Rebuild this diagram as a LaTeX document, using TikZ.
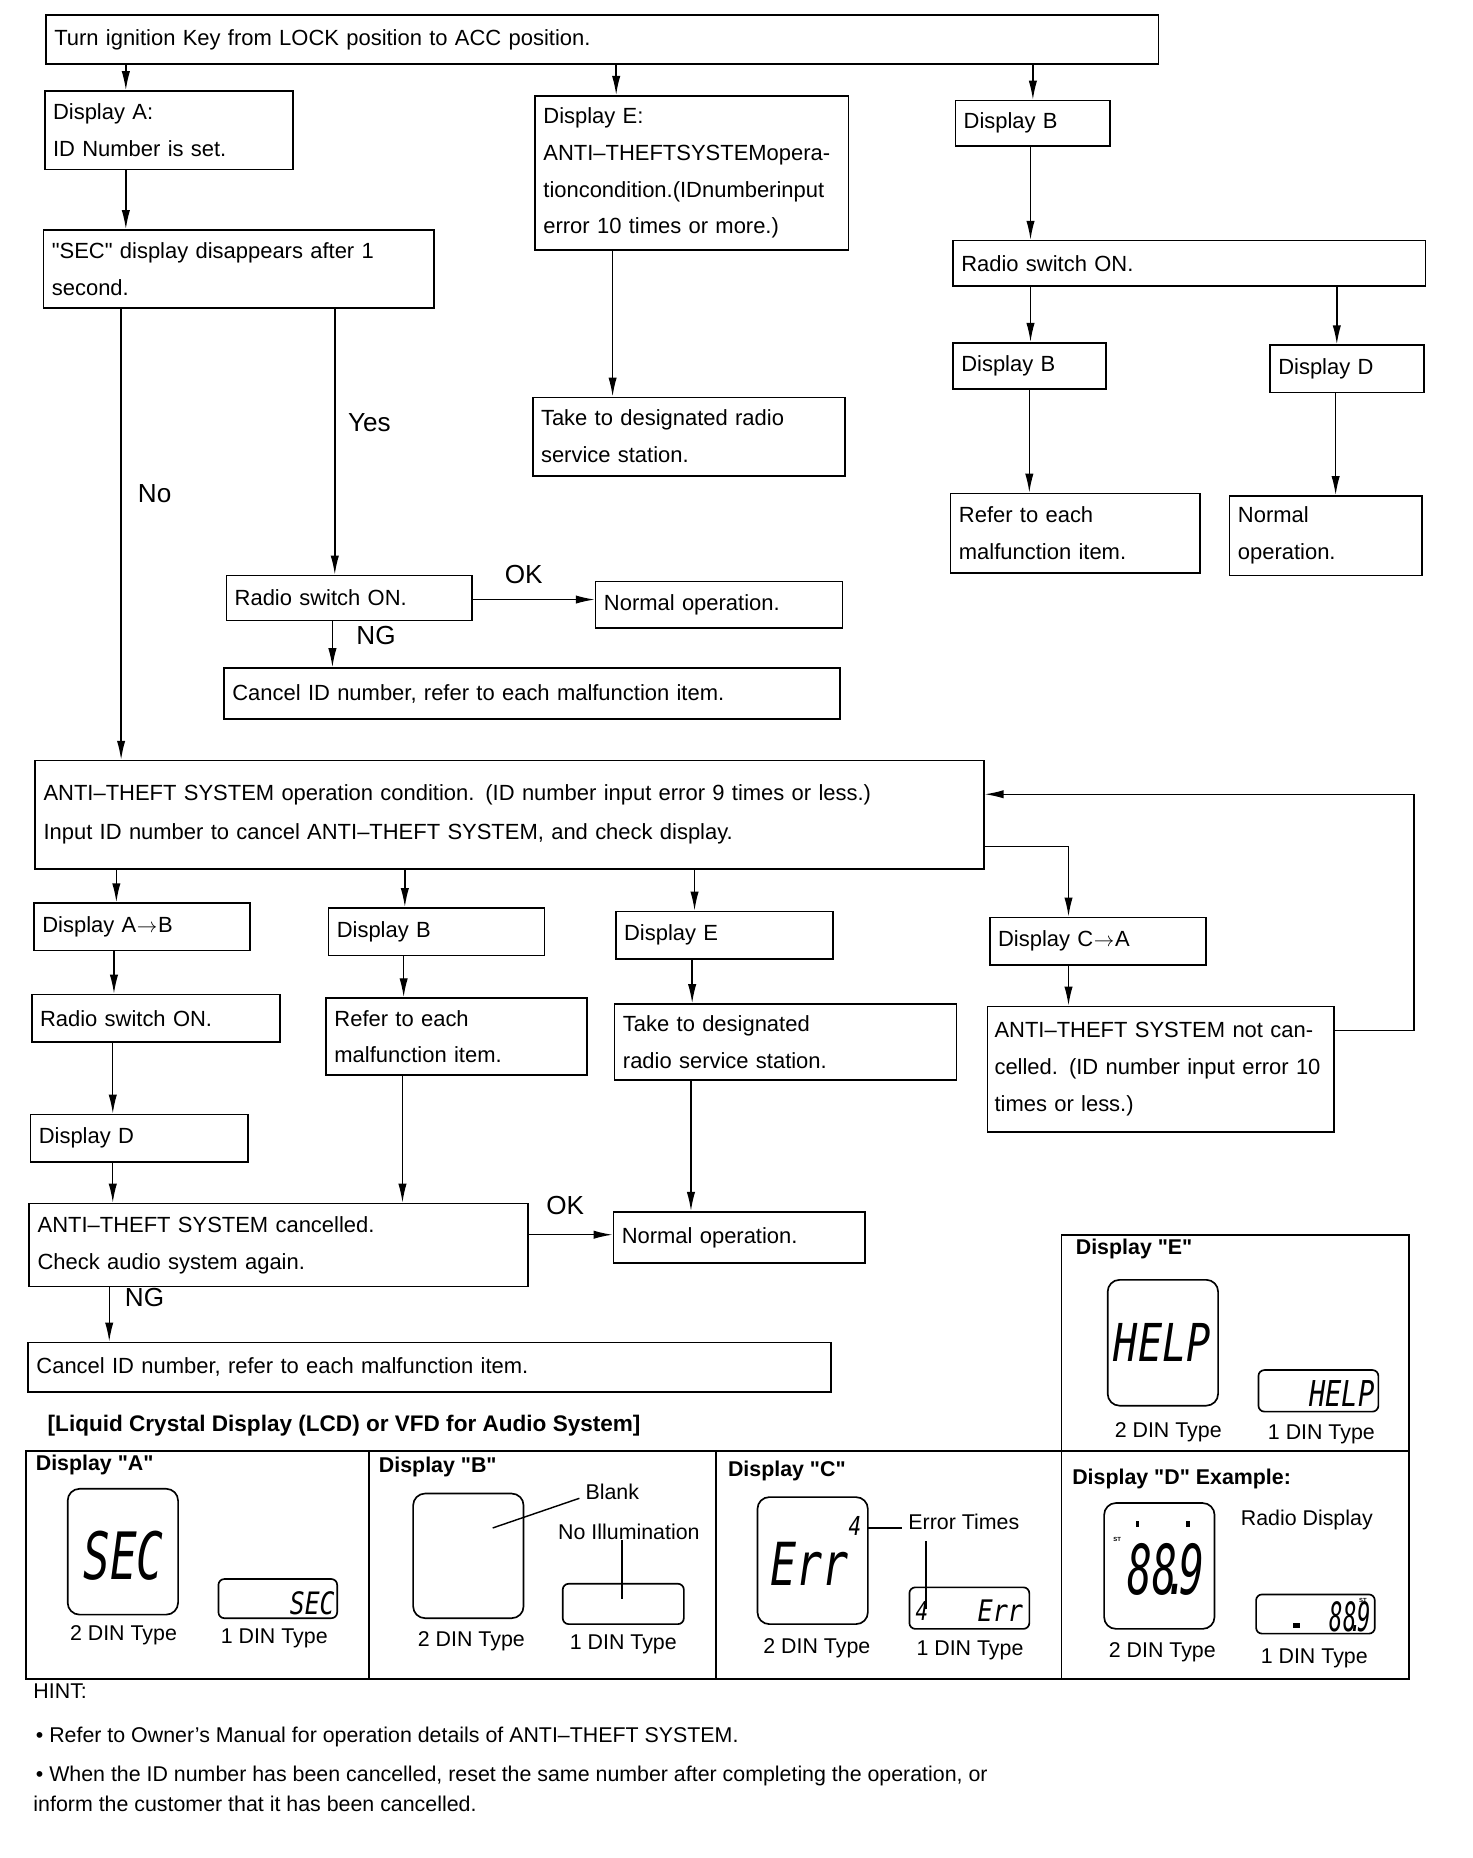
\documentclass[tikz,border=0pt]{standalone}
\usepackage{fontspec}
\setmainfont{Liberation Sans}[Ligatures=TeXOff]
\newfontfamily\lcd{DejaVu Sans Mono}
\usetikzlibrary{arrows.meta}
\newcommand\fs{\fontsize{18.5}{31}\selectfont}
\newcommand\rarr{\kern0.5pt$\rightarrow$\kern0.5pt}
\tikzset{
 box/.style={draw, line width=1.4pt, inner xsep=7pt, inner ysep=0pt, align=left, anchor=north west, font=\fs},
 arr/.style={-{Latex[length=16pt,width=7pt]}, line width=1.2pt},
 plain/.style={line width=1.2pt},
 lbl/.style={font=\fontsize{22}{24}\selectfont, anchor=mid west, inner sep=0pt},
 ptitle/.style={font=\bfseries\fontsize{18}{20}\selectfont, anchor=mid west, inner sep=0pt},
 ptxt/.style={font=\fontsize{18}{20}\selectfont, inner sep=0pt},
 frame/.style={draw, line width=1.5pt},
 lcdbig/.style={draw, line width=1.4pt, rounded corners=10pt},
 lcdsmall/.style={draw, line width=1.4pt, rounded corners=5pt},
 lcdtxt/.style={inner sep=0pt, font=\lcd\itshape},
}
\begin{document}
\begin{tikzpicture}[x=1pt,y=-1pt]
\useasboundingbox (0,0) rectangle (1240,1565);
% ---------- helper x / y positions ----------
\foreach \v in {92,95,96,98,102,106,280,282,339,340,341,516,519,582,583,585,867,868,870,900,1125,1126,1191}
  {\coordinate (x\v) at (\v,0);}
\foreach \v in {505,669,713,868,1040}
  {\coordinate (y\v) at (0,\v);}
% ---------- boxes ----------
\node[box, text width=923pt, minimum height=41pt] (T) at (38,12) {Turn ignition Key from LOCK position to ACC position.};
\node[box, text width=195pt, minimum height=66pt] (DA) at (37,76) {Display A:\\ID Number is set.};
\node[box, text width=250pt, minimum height=130pt] (DE) at (450,80) {Display E:\\ANTI–THEFTSYSTEMopera-\\tioncondition.(IDnumberinput\\error 10 times or more.)};
\node[box, text width=116pt, minimum height=38pt] (DB1) at (804,84) {Display B};
\node[box, text width=315pt, minimum height=66pt] (SEC) at (36,193) {"SEC" display disappears after 1\\second.};
\node[box, text width=249pt, minimum height=66pt] (TK1) at (448,334) {Take to designated radio\\service station.};
\node[box, text width=384pt, minimum height=38pt] (RS1) at (802,202) {Radio switch ON.};
\node[box, text width=115pt, minimum height=39pt] (DB2) at (802,288) {Display B};
\node[box, text width=116pt, minimum height=40pt] (DD1) at (1069,290) {Display D};
\node[box, text width=196pt, minimum height=67pt] (RF1) at (800,415) {Refer to each\\malfunction item.};
\node[box, text width=148pt, minimum height=67pt] (NO1) at (1035,417) {Normal\\operation.};
\node[box, text width=193pt, minimum height=38pt] (RS2) at (190,484) {Radio switch ON.};
\node[box, text width=194pt, minimum height=39pt] (NO2) at (501,489) {Normal operation.};
\node[box, text width=505pt, minimum height=43pt] (CA1) at (188,562) {Cancel ID number, refer to each malfunction item.};
\node[box, text width=785pt, minimum height=91pt, font=\fontsize{18.5}{33}\selectfont] (AT) at (29,640) {ANTI–THEFT SYSTEM operation condition. (ID number input error 9 times or less.)\\Input ID number to cancel ANTI–THEFT SYSTEM, and check display.};
\node[box, text width=168pt, minimum height=40pt] (DAB) at (28,760) {Display A\rarr B};
\node[box, text width=168pt, minimum height=40pt] (DB3) at (276,764) {Display B};
\node[box, text width=169pt, minimum height=40pt] (DE2) at (518,767) {Display E};
\node[box, text width=168pt, minimum height=40pt] (DCA) at (833,772) {Display C\rarr A};
\node[box, text width=195pt, minimum height=40pt] (RS3) at (26,837) {Radio switch ON.};
\node[box, text width=206pt, minimum height=65pt] (RF2) at (274,840) {Refer to each\\malfunction item.};
\node[box, text width=274pt, minimum height=64pt] (TK2) at (517,845) {Take to designated\\radio service station.};
\node[box, text width=280pt, inner xsep=6pt, minimum height=106pt] (NC) at (831,847) {\makebox[\linewidth][s]{ANTI–THEFT SYSTEM not can-}\\\makebox[\linewidth][s]{celled. (ID number input error 10}\\times or less.)};
\node[box, text width=169pt, minimum height=40pt] (DD2) at (25,938) {Display D};
\node[box, text width=406pt, minimum height=70pt] (AC) at (24,1013) {ANTI–THEFT SYSTEM cancelled.\\Check audio system again.};
\node[box, text width=198pt, minimum height=43pt] (NO3) at (516,1020) {Normal operation.};
\node[box, text width=662pt, minimum height=42pt] (CA2) at (23,1130) {Cancel ID number, refer to each malfunction item.};
% ---------- connectors ----------
\draw[arr] (T.south -| x106) -- (DA.north -| x106);
\draw[arr] (T.south -| x519) -- (DE.north -| x519);
\draw[arr] (T.south -| x870) -- (DB1.north -| x870);
\draw[arr] (DA.south -| x106) -- (SEC.north -| x106);
\draw[arr] (DE.south -| x516) -- (TK1.north -| x516);
\draw[arr] (DB1.south -| x868) -- (RS1.north -| x868);
\draw[arr] (RS1.south -| x868) -- (DB2.north -| x868);
\draw[arr] (RS1.south -| x1126) -- (DD1.north -| x1126);
\draw[arr] (DB2.south -| x867) -- (RF1.north -| x867);
\draw[arr] (DD1.south -| x1125) -- (NO1.north -| x1125);
\draw[arr] (SEC.south -| x282) -- (RS2.north -| x282);
\draw[arr] (SEC.south -| x102) -- (AT.north -| x102);
\draw[arr] (RS2.east |- y505) -- (NO2.west |- y505);
\draw[arr] (RS2.south -| x280) -- (CA1.north -| x280);
\draw[arr] (AT.south -| x98) -- (DAB.north -| x98);
\draw[arr] (AT.south -| x341) -- (DB3.north -| x341);
\draw[arr] (AT.south -| x585) -- (DE2.north -| x585);
\draw[arr] (AT.east |- y713) -- (x900 |- y713) -- (DCA.north -| x900);
\draw[arr] (DAB.south -| x96) -- (RS3.north -| x96);
\draw[arr] (DB3.south -| x340) -- (RF2.north -| x340);
\draw[arr] (DE2.south -| x583) -- (TK2.north -| x583);
\draw[arr] (DCA.south -| x900) -- (NC.north -| x900);
\draw[arr] (NC.east |- y868) -- (x1191 |- y868) -- (x1191 |- y669) -- (AT.east |- y669);
\draw[arr] (RS3.south -| x95) -- (DD2.north -| x95);
\draw[arr] (DD2.south -| x95) -- (AC.north -| x95);
\draw[arr] (RF2.south -| x339) -- (AC.north -| x339);
\draw[arr] (TK2.south -| x582) -- (NO3.north -| x582);
\draw[arr] (AC.east |- y1040) -- (NO3.west |- y1040);
\draw[arr] (AC.south -| x92) -- (CA2.north -| x92);
% ---------- connector labels ----------
\node[lbl] (lyes) at (293,361) {Yes};
\node[lbl] (lno) at (116,421) {No};
\node[lbl] (lok1) at (425,489) {OK};
\node[lbl] (lng1) at (300,540) {NG};
\node[lbl] (lok2) at (460,1020) {OK};
\node[lbl] (lng2) at (105,1098) {NG};
% ---------- display panels ----------
\node[font=\bfseries\fontsize{19}{21}\selectfont, anchor=mid west, inner sep=0pt] (ptitle0) at (40,1203) {[Liquid Crystal Display (LCD) or VFD for Audio System]};
\draw[frame] (22,1222) rectangle (1187,1414);
\draw[frame] (311,1222) -- (311,1414);
\draw[frame] (603,1222) -- (603,1414);
\draw[frame] (894,1222) -- (894,1414);
\draw[frame] (894,1222) -- (894,1040) -- (1187,1040) -- (1187,1222);
\node[ptitle] (tA) at (30,1236) {Display "A"};
\node[ptitle] (tB) at (319,1238) {Display "B"};
\node[ptitle] (tC) at (613,1241) {Display "C"};
\node[ptitle] (tD) at (903,1248) {Display "D" Example:};
\node[ptitle] (tE) at (906,1054) {Display "E"};
% A
\draw[lcdbig] (57,1254) rectangle (150,1360);
\draw[lcdsmall] (184,1330) rectangle (284,1363);
\node[lcdtxt] (sA2) at (104,1310) {\scalebox{0.68}[1]{\fontsize{55}{55}\selectfont SEC}};
\node[lcdtxt, anchor=east] (sA1) at (282,1350) {\scalebox{0.8}[1]{\fontsize{26}{26}\selectfont SEC}};
\node[ptxt] (dA2) at (104,1377) {2 DIN Type};
\node[ptxt] (dA1) at (231,1380) {1 DIN Type};
% B
\draw[lcdbig] (348,1258) rectangle (441,1363);
\draw[lcdsmall] (474,1334) rectangle (576,1368);
\node[ptxt, anchor=mid west] (bl) at (493,1260) {Blank};
\node[ptxt, anchor=mid west] (ni) at (470,1294) {No Illumination};
\draw[plain] (415,1287) -- (488,1262);
\draw[plain] (ni.south -| 524,0) -- (524,1347);
\node[ptxt] (dB2) at (397,1382) {2 DIN Type};
\node[ptxt] (dB1) at (525,1385) {1 DIN Type};
% C
\draw[lcdbig] (638,1261) rectangle (731,1368);
\draw[lcdsmall] (766,1337) rectangle (867,1372);
\node[lcdtxt] (sC2) at (682,1317) {\scalebox{0.73}[1]{\fontsize{50}{50}\selectfont Err}};
\node[lcdtxt] (nC2) at (720,1285) {\scalebox{0.8}[1]{\fontsize{22}{22}\selectfont 4}};
\node[lcdtxt, anchor=east] (sC1) at (862,1357) {\scalebox{0.85}[1]{\fontsize{25}{25}\selectfont Err}};
\node[lcdtxt, anchor=west] (nC1) at (771,1357) {\scalebox{0.8}[1]{\fontsize{22}{22}\selectfont 4}};
\node[ptxt, anchor=mid west] (et) at (765,1286) {Error Times};
\draw[plain] (731,1287) -- (760,1287);
\draw[plain] (780,1298) -- (780,1355);
\node[ptxt] (dC2) at (688,1388) {2 DIN Type};
\node[ptxt] (dC1) at (817,1390) {1 DIN Type};
% D
\draw[lcdbig] (930,1266) rectangle (1023,1372);
\draw[lcdsmall] (1058,1343) rectangle (1158,1376);
\node[lcdtxt] (sD2) at (982,1322) {\scalebox{0.6}[1]{\fontsize{58}{58}\selectfont 88\kern-0.3em.\kern-0.25em9}};
\node[lcdtxt, anchor=east] (sD1) at (1155,1362) {\scalebox{0.55}[1]{\fontsize{34}{34}\selectfont 88\kern-0.3em.\kern-0.25em9}};
\node[inner sep=0pt, font=\bfseries\fontsize{5}{5}\selectfont] (stD2) at (941,1297) {ST};
\node[inner sep=0pt, font=\bfseries\fontsize{5}{5}\selectfont] (stD1) at (1148,1348) {ST};
\fill (957,1281) rectangle (959,1286);
\fill (999,1281) rectangle (1002,1286);
\fill (1089,1367) rectangle (1095,1371);
\node[ptxt, anchor=mid west] (rd) at (1045,1282) {Radio Display};
\node[ptxt] (dD2) at (979,1392) {2 DIN Type};
\node[ptxt] (dD1) at (1107,1397) {1 DIN Type};
% E
\draw[lcdbig] (933,1078) rectangle (1026,1184);
\draw[lcdsmall] (1060,1154) rectangle (1161,1189);
\node[lcdtxt] (sE2) at (979,1131) {\scalebox{0.77}[1]{\fontsize{44}{44}\selectfont HELP}};
\node[lcdtxt, anchor=east] (sE1) at (1158,1174) {\scalebox{0.76}[1]{\fontsize{30}{30}\selectfont HELP}};
\node[ptxt] (dE2) at (984,1206) {2 DIN Type};
\node[ptxt] (dE1) at (1113,1208) {1 DIN Type};
% ---------- hint ----------
\node[ptxt, anchor=mid west] (hint) at (28,1428) {HINT:};
\node[ptxt, anchor=mid west] (h1) at (30,1465) {\textbullet\ Refer to Owner’s Manual for operation details of ANTI–THEFT SYSTEM.};
\node[ptxt, anchor=mid west] (h2) at (30,1498) {\textbullet\ When the ID number has been cancelled, reset the same number after completing the operation, or};
\node[ptxt, anchor=mid west] (h3) at (28,1523) {inform the customer that it has been cancelled.};
\end{tikzpicture}
\end{document}
